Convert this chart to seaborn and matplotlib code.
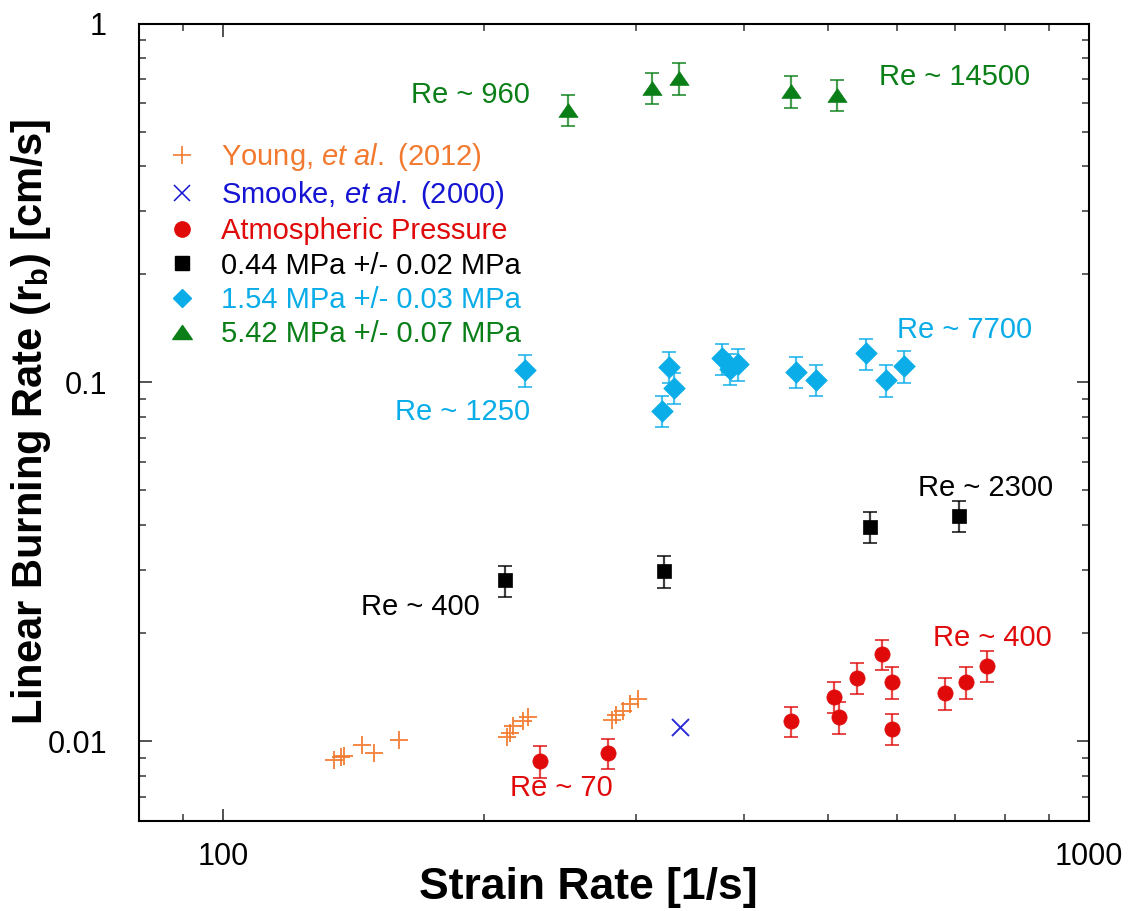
import numpy as np
import pandas as pd
import matplotlib
matplotlib.use("Agg")
import matplotlib.pyplot as plt
import seaborn as sns
from matplotlib.lines import Line2D
from matplotlib.path import Path
from matplotlib.ticker import FixedLocator, FixedFormatter, LogLocator, NullFormatter

# ---------------- data ----------------
young_x = [134.2, 137.0, 138.0, 144.9, 149.5, 159.8, 212.6, 214.3, 216.0, 221.8, 224.8,
           281.5, 284.7, 289.9, 295.5, 301.3]
young_y = [0.00885, 0.00905, 0.0091, 0.00979, 0.00928, 0.01006, 0.01026, 0.01052, 0.01101,
           0.01137, 0.01167, 0.0115, 0.01182, 0.01215, 0.01274, 0.01315]

smooke_x = [336.9]
smooke_y = [0.01096]

atm_x = [232.3, 278.7, 452.3, 508.0, 513.8, 540.0, 577.1, 592.7, 592.7, 682.3, 722.0, 762.9]
atm_y = [0.0088, 0.00928, 0.01137, 0.01329, 0.01169, 0.01501, 0.01748, 0.0146, 0.01085,
         0.01363, 0.0146, 0.01626]
atm_err = [0.0009, 0.0009, 0.0011, 0.0013, 0.0012, 0.0015, 0.0017, 0.0015, 0.0011,
           0.0014, 0.0015, 0.0016]

p044_x = [211.6, 322.7, 558.4, 707.9]
p044_y = [0.0281, 0.0298, 0.0396, 0.0424]
p044_err = [0.0028, 0.0030, 0.0040, 0.0042]

p154_x = [223.0, 327.2, 332.1, 321.2, 377.0, 384.7, 393.0, 459.3, 483.4, 553.2, 583.0, 610.7]
p154_y = [0.1082, 0.1105, 0.0968, 0.0835, 0.1166, 0.1093, 0.1124, 0.107, 0.1019, 0.1204,
          0.1015, 0.111]
p154_err = [0.011, 0.011, 0.0097, 0.0084, 0.0117, 0.0109, 0.0112, 0.0107, 0.0102, 0.012,
            0.0102, 0.0111]

p542_x = [250.6, 312.8, 336.0, 452.3, 512.0]
p542_y = [0.574, 0.663, 0.704, 0.647, 0.632]
p542_err = [0.057, 0.066, 0.070, 0.065, 0.063]

labels = ["Young, $\\it{et\\ al.}$ (2012)", "Smooke, $\\it{et\\ al.}$ (2000)",
          "Atmospheric Pressure", "0.44 MPa +/- 0.02 MPa",
          "1.54 MPa +/- 0.03 MPa", "5.42 MPa +/- 0.07 MPa"]

re_labels = ["Re ~ 960", "Re ~ 14500", "Re ~ 1250", "Re ~ 7700",
             "Re ~ 400", "Re ~ 2300", "Re ~ 70", "Re ~ 400"]

x_ticks = [100, 1000]
x_ticklabels = ["100", "1000"]
y_ticks = [0.01, 0.1, 1]
y_ticklabels = ["0.01", "0.1", "1"]

# ---------------- style ----------------
ORANGE = "#F27A30"
BLUE = "#1414D2"
RED = "#E00A0A"
BLACK = "#000000"
SKY = "#0AADE8"
GREEN = "#0A7F18"

TRI = Path([(-1.0, -0.72), (1.0, -0.72), (0.0, 0.72), (-1.0, -0.72)],
           [Path.MOVETO, Path.LINETO, Path.LINETO, Path.CLOSEPOLY])

sns.set_theme(style="ticks")
plt.rcParams["font.family"] = ["Liberation Sans", "DejaVu Sans"]
plt.rcParams["mathtext.fontset"] = "custom"
plt.rcParams["mathtext.rm"] = "Liberation Sans"
plt.rcParams["mathtext.it"] = "Liberation Sans:italic"
plt.rcParams["mathtext.bf"] = "Liberation Sans:bold"
plt.rcParams["text.color"] = "black"
plt.rcParams["axes.labelcolor"] = "black"

fig = plt.figure(figsize=(11.30, 9.11), dpi=100)
ax = fig.add_axes([139 / 1130, 1 - 821 / 911, 950 / 1130, 797.5 / 911])

FS = 21

def series(x, y, err, color, marker, size):
    df = pd.DataFrame({"x": x, "y": y})
    if err is not None:
        ax.errorbar(x, y, yerr=err, fmt="none", ecolor=color, elinewidth=1.6,
                    capsize=4.7, capthick=1.4, alpha=0.75, zorder=2)
    if marker in ("+", "x"):
        sns.scatterplot(data=df, x="x", y="y", ax=ax, color=color, marker=marker, s=size,
                        linewidth=1.4, alpha=0.9, zorder=3, legend=False)
    else:
        sns.scatterplot(data=df, x="x", y="y", ax=ax, color=color, marker=marker, s=size,
                        edgecolor=color, linewidth=0.5, zorder=3, legend=False)

series(young_x, young_y, None, ORANGE, "+", 175)
series(smooke_x, smooke_y, None, BLUE, "x", 150)
series(atm_x, atm_y, atm_err, RED, "o", 120)
series(p044_x, p044_y, p044_err, BLACK, "s", 95)
series(p154_x, p154_y, p154_err, SKY, "D", 120)
series(p542_x, p542_y, p542_err, GREEN, TRI, 190)

ax.set_xscale("log")
ax.set_yscale("log")
ax.set_xlim(80, 1000)
ax.set_ylim(0.006, 1)

ax.xaxis.set_major_locator(FixedLocator(x_ticks))
ax.xaxis.set_major_formatter(FixedFormatter(x_ticklabels))
ax.xaxis.set_minor_locator(LogLocator(base=10, subs=np.arange(2, 10)))
ax.xaxis.set_minor_formatter(NullFormatter())
ax.yaxis.set_major_locator(FixedLocator(y_ticks))
ax.yaxis.set_major_formatter(FixedFormatter(y_ticklabels))
ax.yaxis.set_minor_locator(LogLocator(base=10, subs=np.arange(2, 10)))
ax.yaxis.set_minor_formatter(NullFormatter())

ax.tick_params(which="both", direction="in", top=True, right=True, color="#444444",
               labelsize=22, labelcolor="black")
ax.tick_params(which="major", length=9, width=1.3)
ax.tick_params(axis="x", which="major", pad=15)
ax.tick_params(axis="y", which="major", pad=23)
ax.tick_params(which="minor", length=5, width=1.2)
for s in ax.spines.values():
    s.set_linewidth(1.5)
    s.set_color("black")

ax.set_xlabel("Strain Rate [1/s]", fontsize=32, fontweight="bold", labelpad=0,
              color="black")
ax.xaxis.set_label_coords(0.4726, -0.058, transform=ax.transAxes)
ax.xaxis.label.set_va("top")
ax.set_ylabel("Linear Burning Rate (r$_{\\mathbf{b}}$) [cm/s]", fontsize=30,
              fontweight="bold", labelpad=-4, color="black")

# annotations
ann = [
    (re_labels[0], 0.349, 0.910, GREEN),
    (re_labels[1], 0.859, 0.933, GREEN),
    (re_labels[2], 0.341, 0.513, SKY),
    (re_labels[3], 0.869, 0.616, SKY),
    (re_labels[4], 0.296, 0.268, BLACK),
    (re_labels[5], 0.891, 0.4176, BLACK),
    (re_labels[6], 0.445, 0.0414, RED),
    (re_labels[7], 0.898, 0.2295, RED),
]
for t, xf, yf, c in ann:
    ax.text(xf, yf, t, transform=ax.transAxes, color=c, fontsize=FS,
            ha="center", va="center")

# legend
handles = [
    Line2D([], [], ls="none", marker="+", color=ORANGE, markersize=13, markeredgewidth=1.2),
    Line2D([], [], ls="none", marker="x", color=BLUE, markersize=11, markeredgewidth=1.1),
    Line2D([], [], ls="none", marker="o", color=RED, markersize=11),
    Line2D([], [], ls="none", marker="s", color=BLACK, markersize=9.5),
    Line2D([], [], ls="none", marker="D", color=SKY, markersize=9),
    Line2D([], [], ls="none", marker=TRI, color=GREEN, markersize=14),
]
colors = [ORANGE, BLUE, RED, BLACK, SKY, GREEN]
leg = ax.legend(handles, labels, loc="upper left", bbox_to_anchor=(0.005, 0.878),
                frameon=False, fontsize=FS, labelspacing=0.21, handlelength=1.2,
                handletextpad=0.76, borderpad=0.2)
for txt, c in zip(leg.get_texts(), colors):
    txt.set_color(c)

fig.savefig("out.png", dpi=100)
